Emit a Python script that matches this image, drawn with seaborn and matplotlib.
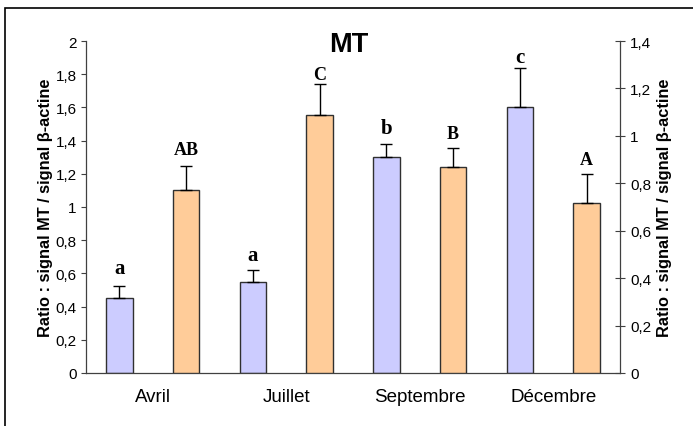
import matplotlib
matplotlib.use("Agg")
import matplotlib.pyplot as plt
import seaborn as sns
import pandas as pd
import numpy as np

# ---- data ----
months = ["Avril", "Juillet", "Septembre", "Décembre"]
blue_vals = [0.45, 0.55, 1.30, 1.60]
blue_err = [0.075, 0.07, 0.08, 0.235]
orange_vals = [0.77, 1.09, 0.87, 0.715]
orange_err = [0.105, 0.13, 0.08, 0.125]
blue_letters = ["a", "a", "b", "c"]
orange_letters = ["AB", "C", "B", "A"]
blue_letter_y = [0.60, 0.68, 1.446, 1.873]
orange_letter_y = [0.923, 1.240, 0.991, 0.881]
left_ticks = [0, 0.2, 0.4, 0.6, 0.8, 1.0, 1.2, 1.4, 1.6, 1.8, 2.0]
right_ticks = [0, 0.2, 0.4, 0.6, 0.8, 1.0, 1.2, 1.4]
series = ["MT1", "MT2"]
title = "MT"
ylabel = "Ratio : signal MT / signal β-actine"

BLUE = "#CCCCFF"
ORANGE = "#FFCC99"

sns.set_style("white")
plt.rcParams["font.family"] = ["Liberation Sans", "DejaVu Sans"]
plt.rcParams["text.color"] = "black"
plt.rcParams["axes.labelcolor"] = "black"
plt.rcParams["xtick.color"] = "black"
plt.rcParams["ytick.color"] = "black"

def fmt(v):
    s = ("%g" % v).replace(".", ",")
    return s

df_b = pd.DataFrame({"Mois": months, "Ratio": blue_vals, "Série": series[0]})
df_o = pd.DataFrame({"Mois": months, "Ratio": orange_vals, "Série": series[1]})
pal = {series[0]: BLUE, series[1]: ORANGE}

fig = plt.figure(figsize=(6.93, 4.27), dpi=100)
ax = fig.add_axes([86/693, 1-374/427, (620-86)/693, (374-42)/427])
sns.barplot(data=df_b, x="Mois", y="Ratio", hue="Série", hue_order=series,
            order=months, palette=pal, width=1.0, gap=0.6, dodge=True, errorbar=None,
            edgecolor="#303030", linewidth=1.0, legend=False, ax=ax, saturation=1)
ax2 = ax.twinx()
sns.barplot(data=df_o, x="Mois", y="Ratio", hue="Série", hue_order=series,
            order=months, palette=pal, width=1.0, gap=0.6, dodge=True, errorbar=None,
            edgecolor="#303030", linewidth=1.0, legend=False, ax=ax2, saturation=1)

def centers(a):
    ps = sorted([p for p in a.patches if p.get_height() > 0], key=lambda p: p.get_x())
    return [p.get_x() + p.get_width()/2 for p in ps]

cb = centers(ax)
co = centers(ax2)
ax.errorbar(cb, blue_vals, yerr=[np.zeros(len(blue_err)), blue_err], fmt="none",
            ecolor="black", elinewidth=1, capsize=4, capthick=1, zorder=5)
ax2.errorbar(co, orange_vals, yerr=[np.zeros(len(orange_err)), orange_err], fmt="none",
             ecolor="black", elinewidth=1, capsize=4, capthick=1, zorder=5)

for x, y, t in zip(cb, blue_letter_y, blue_letters):
    ax.text(x, y, t, ha="center", va="baseline", family="Liberation Serif",
            fontweight="bold", fontsize=15)
for x, y, t in zip(co, orange_letter_y, orange_letters):
    ax2.text(x, y, t, ha="center", va="baseline", family="Liberation Serif",
             fontweight="bold", fontsize=13)

ax.set_ylim(0, 2)
ax2.set_ylim(0, 1.4)
ax.set_xlim(-0.5, len(months) - 0.5)
ax.set_yticks(left_ticks)
ax.set_yticklabels([fmt(v) for v in left_ticks])
ax2.set_yticks(right_ticks)
ax2.set_yticklabels([fmt(v) for v in right_ticks])

ax.set_xticks(range(len(months)))
ax.set_xticklabels(months)
ax.set_xticks(np.arange(-0.5, len(months), 1.0), minor=True)
ax.tick_params(axis="x", which="major", direction="in", length=3, width=0.8,
               color="#404040", labelsize=13.5, pad=11)
ax.tick_params(axis="x", which="minor", direction="out", length=4.5, width=0.8,
               color="#404040")
ax.tick_params(axis="y", direction="out", length=3.6, width=0.8, color="#404040",
               labelsize=11, pad=3, left=True)
ax2.tick_params(axis="y", direction="inout", length=6.5, width=0.8, color="#404040",
                labelsize=11, pad=4, right=True)

ax.set_xlabel("")
ax.set_ylabel(ylabel, fontweight="bold", fontsize=11.8, labelpad=2)
ax2.set_ylabel(ylabel, fontweight="bold", fontsize=11.8, labelpad=4)

for s in ["top", "right"]:
    ax.spines[s].set_visible(False)
for s in ["top", "left", "bottom"]:
    ax2.spines[s].set_visible(False)
for a in (ax, ax2):
    for s in a.spines.values():
        s.set_color("#404040")
        s.set_linewidth(0.9)

ax2.text(0.5 - 4/534, 1 - 10/332, title, transform=ax.transAxes, ha="center",
         va="baseline", fontsize=19.5, fontweight="bold", color="black")

fig.add_artist(plt.Rectangle((5/693, -0.1), 1.2, 1.1 - 9/427, transform=fig.transFigure,
                             fill=False, edgecolor="black", linewidth=1.2))

fig.savefig("out.png", dpi=100)
